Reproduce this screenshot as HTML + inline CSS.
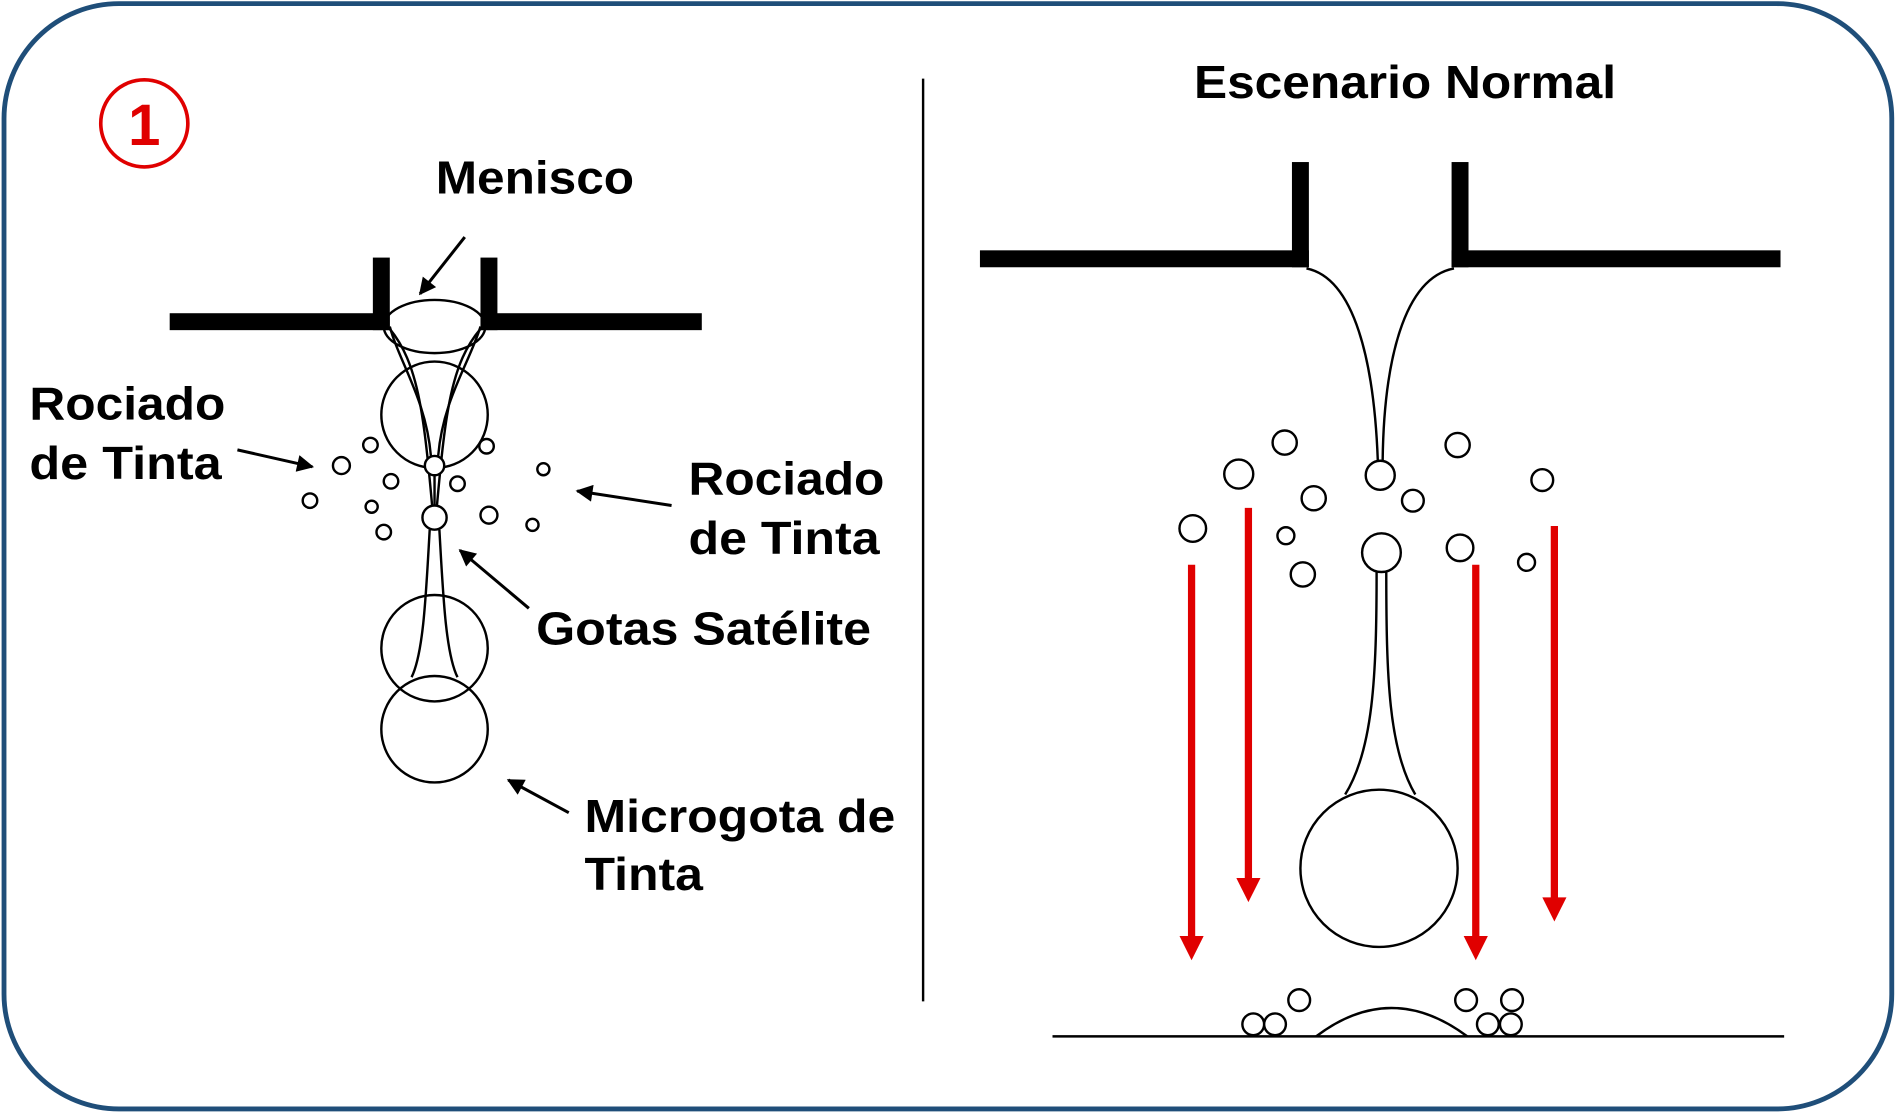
<!DOCTYPE html>
<html><head><meta charset="utf-8"><style>
html,body{margin:0;padding:0;background:#fff;}
svg{display:block;}
text{font-family:"Liberation Sans",Arial,sans-serif;font-weight:bold;fill:#000;}
</style></head><body>
<svg width="1897" height="1115" viewBox="0 0 1568 922" xmlns="http://www.w3.org/2000/svg">
<defs>
<marker id="ak" viewBox="0 0 10 10" markerWidth="16" markerHeight="14" refX="9" refY="5" orient="auto" markerUnits="userSpaceOnUse"><path d="M0,0 L10,5 L0,10 z" fill="#000"/></marker>
<marker id="ar" viewBox="0 0 10 10" markerWidth="22" markerHeight="20" refX="2" refY="5" orient="auto" markerUnits="userSpaceOnUse"><path d="M0,0 L10,5 L0,10 z" fill="#e00000"/></marker>
</defs>
<rect x="3" y="3" width="1561" height="914" rx="95" ry="95" fill="#fff" stroke="#1f4e79" stroke-width="4"/>
<circle cx="119" cy="102" r="36" fill="none" stroke="#e00000" stroke-width="3"/>
<text x="119" y="120" text-anchor="middle" font-size="48" style="fill:#e00000">1</text>
<line x1="763" y1="65" x2="763" y2="828" stroke="#000" stroke-width="2"/>

<g fill="#000">
<rect x="140" y="259" width="182" height="14"/>
<rect x="308" y="213" width="14" height="60"/>
<rect x="397" y="213" width="14" height="60"/>
<rect x="397" y="259" width="183" height="14"/>
</g>
<g fill="none" stroke="#000" stroke-width="2">
<ellipse cx="359" cy="270" rx="42" ry="22"/>
<circle cx="359" cy="343" r="44"/>
<path d="M322,270 C330,300 352,330 356,377"/>
<path d="M397,270 C388,300 366,330 362,377"/>
<path d="M322,272 C345,300 350,340 357,418"/>
<path d="M397,272 C373,300 368,340 361,418"/>
<line x1="359" y1="393" x2="359" y2="418"/>
<circle cx="359" cy="536" r="44"/>
<circle cx="359" cy="603" r="44"/>
<path d="M355,438 C352,490 350,540 340,560"/>
<path d="M363,438 C366,490 368,540 378,560"/>
</g>
<g fill="#fff" stroke="#000" stroke-width="2">
<circle cx="359" cy="385" r="8"/>
<circle cx="359" cy="428" r="10"/>
<circle cx="282" cy="385" r="7"/><circle cx="306" cy="368" r="6"/><circle cx="323" cy="398" r="6"/>
<circle cx="256" cy="414" r="6"/><circle cx="307" cy="419" r="5"/><circle cx="317" cy="440" r="6"/>
<circle cx="378" cy="400" r="6"/><circle cx="402" cy="369" r="6"/><circle cx="404" cy="426" r="7"/>
<circle cx="449" cy="388" r="5"/><circle cx="440" cy="434" r="5"/>
</g>
<g stroke="#000" stroke-width="2.5" fill="none">
<line x1="384" y1="196" x2="347" y2="243" marker-end="url(#ak)"/>
<line x1="196" y1="372" x2="258" y2="386" marker-end="url(#ak)"/>
<line x1="555" y1="418" x2="477" y2="406" marker-end="url(#ak)"/>
<line x1="437" y1="503" x2="380" y2="455" marker-end="url(#ak)"/>
<line x1="470" y1="672" x2="420" y2="645" marker-end="url(#ak)"/>
</g>
<g font-size="38">
<text x="360" y="160" textLength="164" lengthAdjust="spacingAndGlyphs">Menisco</text>
<text x="24" y="347" textLength="162" lengthAdjust="spacingAndGlyphs">Rociado</text>
<text x="24" y="396" textLength="159" lengthAdjust="spacingAndGlyphs">de Tinta</text>
<text x="569" y="409" textLength="162" lengthAdjust="spacingAndGlyphs">Rociado</text>
<text x="569" y="458" textLength="158" lengthAdjust="spacingAndGlyphs">de Tinta</text>
<text x="443" y="533" textLength="277" lengthAdjust="spacingAndGlyphs">Gotas Satélite</text>
<text x="483" y="688" textLength="257" lengthAdjust="spacingAndGlyphs">Microgota de</text>
<text x="483" y="736" textLength="98" lengthAdjust="spacingAndGlyphs">Tinta</text>
<text x="987" y="81" textLength="349" lengthAdjust="spacingAndGlyphs">Escenario Normal</text>
</g>

<g fill="#000">
<rect x="810" y="207" width="272" height="14"/>
<rect x="1068" y="134" width="14" height="87"/>
<rect x="1200" y="134" width="14" height="87"/>
<rect x="1200" y="207" width="272" height="14"/>
</g>
<g fill="none" stroke="#000" stroke-width="2">
<path d="M1080,222 C1120,230 1136,300 1139,381"/>
<path d="M1202,222 C1160,230 1144,300 1143,381"/>
<path d="M1138,473 C1138,560 1135,620 1112,657"/>
<path d="M1146,473 C1146,560 1148,620 1170,657"/>
<circle cx="1140" cy="718" r="65" fill="#fff"/>
<line x1="870" y1="857" x2="1475" y2="857"/>
<path d="M1088,857 Q1150,810 1213,857"/>
</g>
<g fill="#fff" stroke="#000" stroke-width="2">
<circle cx="1141" cy="393" r="12"/><circle cx="1142" cy="457" r="16"/>
<circle cx="1062" cy="366" r="10"/><circle cx="1024" cy="392" r="12"/><circle cx="1086" cy="412" r="10"/>
<circle cx="986" cy="437" r="11"/><circle cx="1063" cy="443" r="7"/><circle cx="1077" cy="475" r="10"/>
<circle cx="1205" cy="368" r="10"/><circle cx="1168" cy="414" r="9"/><circle cx="1275" cy="397" r="9"/>
<circle cx="1207" cy="453" r="11"/><circle cx="1262" cy="465" r="7"/>
<circle cx="1036" cy="847" r="9"/><circle cx="1054" cy="847" r="9"/><circle cx="1074" cy="827" r="9"/>
<circle cx="1212" cy="827" r="9"/><circle cx="1250" cy="827" r="9"/><circle cx="1230" cy="847" r="9"/><circle cx="1249" cy="847" r="9"/>
</g>
<g stroke="#e00000" stroke-width="6">
<line x1="985" y1="467" x2="985" y2="778" marker-end="url(#ar)"/>
<line x1="1032" y1="420" x2="1032" y2="730" marker-end="url(#ar)"/>
<line x1="1220" y1="467" x2="1220" y2="778" marker-end="url(#ar)"/>
<line x1="1285" y1="435" x2="1285" y2="746" marker-end="url(#ar)"/>
</g>
</svg>
</body></html>
